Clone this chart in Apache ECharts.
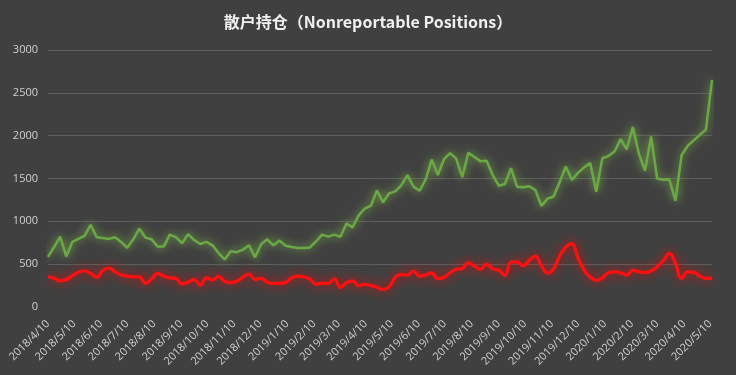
<!DOCTYPE html>
<html>
<head>
<meta charset="utf-8">
<script src="https://cdn.jsdelivr.net/npm/echarts@6/dist/echarts.min.js"></script>
<style>
html,body{margin:0;padding:0;background:#404040;}
#chart{width:736px;height:375px;}
</style>
</head>
<body>
<div id="chart"></div>
<script>
var titleText = '散户持仓（Nonreportable Positions）';

var dates = [
'2018/4/10','2018/4/17','2018/4/24','2018/5/1','2018/5/8','2018/5/15','2018/5/22','2018/5/29','2018/6/5','2018/6/12',
'2018/6/19','2018/6/26','2018/7/3','2018/7/10','2018/7/17','2018/7/24','2018/7/31','2018/8/7','2018/8/14','2018/8/21',
'2018/8/28','2018/9/4','2018/9/11','2018/9/18','2018/9/25','2018/10/2','2018/10/9','2018/10/16','2018/10/23','2018/10/30',
'2018/11/6','2018/11/13','2018/11/20','2018/11/27','2018/12/4','2018/12/11','2018/12/18','2018/12/25','2019/1/1','2019/1/8',
'2019/1/15','2019/1/22','2019/1/29','2019/2/5','2019/2/12','2019/2/19','2019/2/26','2019/3/5','2019/3/12','2019/3/19',
'2019/3/26','2019/4/2','2019/4/9','2019/4/16','2019/4/23','2019/4/30','2019/5/7','2019/5/14','2019/5/21','2019/5/28',
'2019/6/4','2019/6/11','2019/6/18','2019/6/25','2019/7/2','2019/7/9','2019/7/16','2019/7/23','2019/7/30','2019/8/6',
'2019/8/13','2019/8/20','2019/8/27','2019/9/3','2019/9/10','2019/9/17','2019/9/24','2019/10/1','2019/10/8','2019/10/15',
'2019/10/22','2019/10/29','2019/11/5','2019/11/12','2019/11/19','2019/11/26','2019/12/3','2019/12/10','2019/12/17','2019/12/24',
'2019/12/31','2020/1/7','2020/1/14','2020/1/21','2020/1/28','2020/2/4','2020/2/11','2020/2/18','2020/2/25','2020/3/3',
'2020/3/10','2020/3/17','2020/3/24','2020/3/31','2020/4/7','2020/4/14','2020/4/21','2020/4/28','2020/5/5','2020/5/12'
];

var greenValues = [
586,700,820,590,760,795,830,960,815,805,
795,815,760,690,790,915,810,790,705,705,
845,815,745,850,780,735,760,720,630,555,
650,640,670,720,580,735,790,720,775,715,
700,688,690,695,765,845,822,845,820,975,
930,1070,1150,1180,1360,1222,1327,1350,1420,1540,
1405,1357,1490,1720,1540,1725,1795,1735,1515,1800,
1750,1700,1708,1540,1416,1436,1620,1404,1398,1410,
1365,1180,1265,1290,1460,1640,1482,1565,1630,1680,
1346,1736,1763,1815,1960,1840,2100,1790,1590,1990,
1500,1485,1490,1240,1770,1880,1945,2010,2070,2650
];

var redValues = [
355,335,305,320,365,405,420,392,348,425,
455,410,375,360,352,352,275,330,392,360,
340,333,270,290,320,255,340,315,358,300,
285,300,350,385,320,333,290,275,275,285,
340,360,350,325,265,278,275,328,228,285,
305,250,265,250,230,205,235,345,380,372,
420,360,375,398,330,345,400,440,450,515,
475,440,500,445,430,370,525,527,480,545,
595,480,395,445,600,700,740,570,430,350,
310,340,400,410,400,372,428,410,402,420,
470,540,625,510,333,410,405,360,333,333
];

var tickLabels = [
'2018/4/10','2018/5/10','2018/6/10','2018/7/10','2018/8/10','2018/9/10','2018/10/10','2018/11/10','2018/12/10',
'2019/1/10','2019/2/10','2019/3/10','2019/4/10','2019/5/10','2019/6/10','2019/7/10','2019/8/10','2019/9/10',
'2019/10/10','2019/11/10','2019/12/10','2020/1/10','2020/2/10','2020/3/10','2020/4/10','2020/5/10'
];

var yTicks = [0, 500, 1000, 1500, 2000, 2500, 3000];

// convert 'y/m/d' to a day number counted from the first date
var DAY = 86400000;
function ymd(s){ var p = s.split('/'); return Date.UTC(+p[0], +p[1]-1, +p[2]); }
var t0 = ymd(dates[0]);
function dayNum(s){ return Math.round((ymd(s) - t0) / DAY); }
var labelByDay = {};
tickLabels.forEach(function(s){ labelByDay[dayNum(s)] = s; });

var greenData = dates.map(function(d,i){ return [dayNum(d), greenValues[i]]; });
var redData = dates.map(function(d,i){ return [dayNum(d), redValues[i]]; });

var chart = echarts.init(document.getElementById('chart'));
chart.setOption({
  animation: false,
  backgroundColor: '#404040',
  title: {
    text: titleText,
    left: 'center',
    top: 9,
    textStyle: {color: '#f0f0f0', fontSize: 16, fontWeight: 'bold', fontFamily: '"Noto Sans CJK SC", "Noto Sans", sans-serif'}
  },
  grid: {left: 48, right: 24, top: 50, bottom: 68, containLabel: false},
  xAxis: {
    type: 'value',
    min: 0,
    max: dayNum(dates[dates.length-1]),
    axisLine: {show: false},
    axisTick: {show: false},
    splitLine: {show: false},
    axisLabel: {
      customValues: tickLabels.map(dayNum),
      formatter: function(v){ return labelByDay[Math.round(v)] || ''; },
      rotate: 45,
      color: '#d0d0d0',
      fontSize: 11,
      margin: 15,
      hideOverlap: false,
      showMinLabel: true,
      showMaxLabel: true,
      fontFamily: '"Open Sans", "Noto Sans", sans-serif'
    }
  },
  yAxis: {
    type: 'value',
    min: yTicks[0],
    max: yTicks[yTicks.length-1],
    interval: 500,
    axisLine: {show: false},
    axisTick: {show: false},
    axisLabel: {color: '#d0d0d0', fontSize: 11, margin: 10, fontFamily: '"Open Sans", "Noto Sans", sans-serif',
      formatter: function(v){ return String(v); }},
    splitLine: {show: true, showMinLine: false, lineStyle: {color: '#5e5e5e', width: 1}}
  },
  series: [
    {
      name: 'green', type: 'line', data: greenData, showSymbol: false, symbol: 'none',
      lineStyle: {color: '#6aaa45', width: 2.5, shadowColor: 'rgba(140,200,80,0.9)', shadowBlur: 10},
      z: 2
    },
    {
      name: 'red', type: 'line', data: redData, showSymbol: false, symbol: 'none', smooth: 0.4,
      lineStyle: {color: '#ff1010', width: 3.2, shadowColor: 'rgba(255,0,0,0.9)', shadowBlur: 11},
      z: 3
    }
  ]
});
</script>
</body>
</html>
